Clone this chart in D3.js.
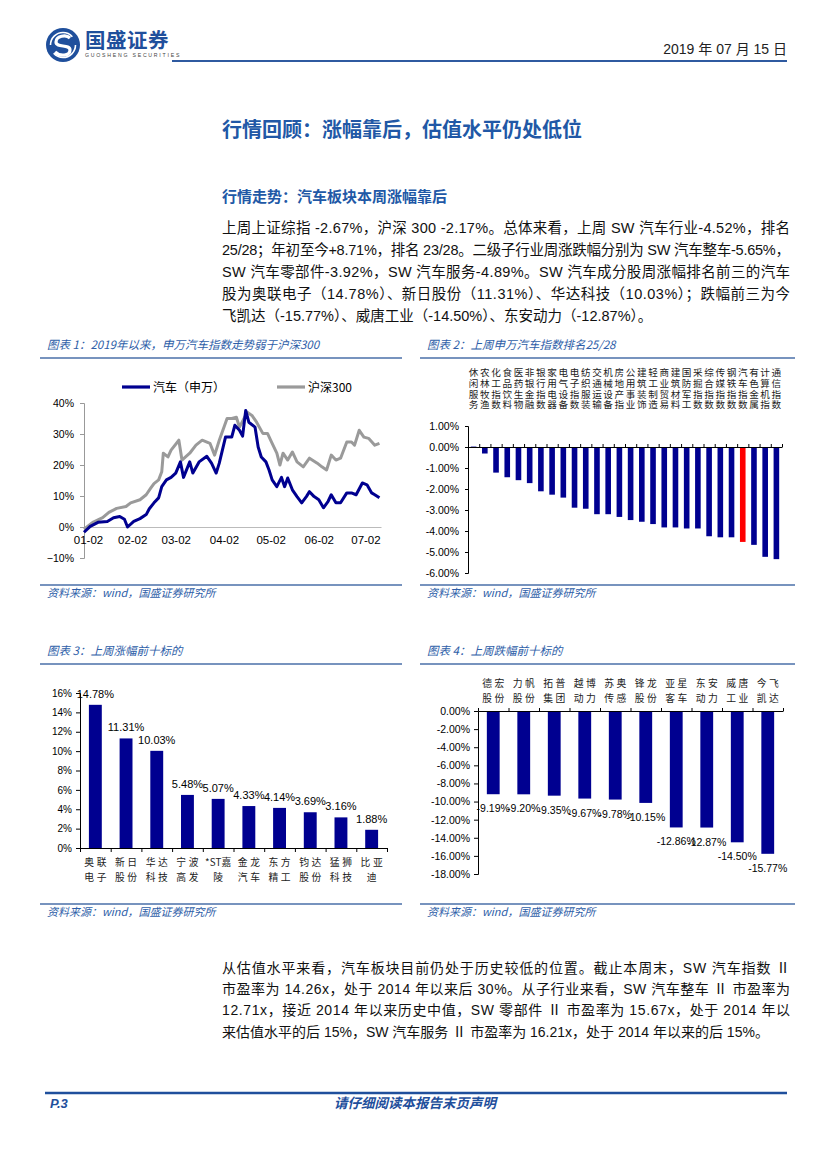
<!DOCTYPE html>
<html>
<head>
<meta charset="utf-8">
<script src="https://cdn.jsdelivr.net/npm/d3@7"></script>
<style>
  body { margin: 0; background: #fff; }
</style>
</head>
<body>
<div id="page"></div>
<script>
// ---- data ----

// chart 1: cumulative change since 2019-01-02 (%)
const autoSeries = [
  ["2019-01-02", -1.7], ["2019-01-06", 0.2], ["2019-01-11", 1.5], ["2019-01-17", 1.8],
  ["2019-01-21", 3.0], ["2019-01-25", 3.4], ["2019-01-28", 2.5], ["2019-01-30", 0.0],
  ["2019-02-03", 1.8], ["2019-02-07", 2.7], ["2019-02-11", 4.0], ["2019-02-13", 5.9],
  ["2019-02-16", 7.8], ["2019-02-19", 9.4], ["2019-02-21", 13.0], ["2019-02-24", 15.2],
  ["2019-02-27", 16.0], ["2019-03-02", 17.4], ["2019-03-05", 21.0], ["2019-03-07", 16.0],
  ["2019-03-11", 21.0], ["2019-03-13", 17.4], ["2019-03-17", 21.0], ["2019-03-22", 22.8],
  ["2019-03-25", 20.6], ["2019-03-28", 17.4], ["2019-03-30", 20.6], ["2019-04-03", 29.0],
  ["2019-04-07", 29.0], ["2019-04-09", 32.8], ["2019-04-12", 31.2], ["2019-04-14", 29.3],
  ["2019-04-16", 37.6], ["2019-04-18", 33.8], ["2019-04-22", 32.2], ["2019-04-24", 25.8],
  ["2019-04-26", 22.6], ["2019-04-29", 21.0], ["2019-05-01", 18.4], ["2019-05-03", 15.2],
  ["2019-05-06", 13.0], ["2019-05-09", 16.0], ["2019-05-11", 13.0], ["2019-05-13", 15.8],
  ["2019-05-16", 12.0], ["2019-05-19", 9.8], ["2019-05-22", 7.8], ["2019-05-25", 9.8],
  ["2019-05-27", 11.4], ["2019-05-30", 9.8], ["2019-06-02", 8.8], ["2019-06-05", 6.2],
  ["2019-06-08", 8.3], ["2019-06-10", 10.4], ["2019-06-13", 7.8], ["2019-06-16", 7.8],
  ["2019-06-20", 11.0], ["2019-06-23", 11.0], ["2019-06-26", 10.4], ["2019-06-30", 14.2],
  ["2019-07-03", 13.6], ["2019-07-06", 11.0], ["2019-07-08", 10.4], ["2019-07-11", 9.4]
];
const hs300Series = [
  ["2019-01-02", -0.7], ["2019-01-08", 1.6], ["2019-01-14", 3.0], ["2019-01-18", 4.7],
  ["2019-01-23", 6.0], ["2019-01-29", 6.6], ["2019-02-01", 7.8], ["2019-02-07", 8.8],
  ["2019-02-11", 10.4], ["2019-02-14", 12.6], ["2019-02-16", 14.0], ["2019-02-19", 15.2],
  ["2019-02-21", 17.8], ["2019-02-22", 23.8], ["2019-02-25", 22.6], ["2019-02-27", 24.8],
  ["2019-03-04", 28.0], ["2019-03-06", 21.6], ["2019-03-11", 23.8], ["2019-03-15", 26.4],
  ["2019-03-19", 28.0], ["2019-03-24", 27.0], ["2019-03-27", 23.2], ["2019-03-30", 28.0],
  ["2019-04-02", 32.2], ["2019-04-04", 35.0], ["2019-04-07", 35.0], ["2019-04-10", 35.4],
  ["2019-04-12", 32.2], ["2019-04-17", 37.0], ["2019-04-20", 36.0], ["2019-04-23", 33.8],
  ["2019-04-27", 30.2], ["2019-04-30", 30.2], ["2019-05-03", 27.0], ["2019-05-06", 23.8],
  ["2019-05-08", 20.0], ["2019-05-10", 23.8], ["2019-05-13", 21.6], ["2019-05-16", 24.2],
  ["2019-05-19", 21.0], ["2019-05-23", 19.4], ["2019-05-27", 22.2], ["2019-06-01", 20.6],
  ["2019-06-04", 19.4], ["2019-06-07", 18.4], ["2019-06-10", 23.2], ["2019-06-13", 21.6],
  ["2019-06-16", 22.2], ["2019-06-20", 27.4], ["2019-06-23", 27.4], ["2019-06-25", 26.4],
  ["2019-06-28", 31.2], ["2019-07-01", 29.0], ["2019-07-04", 28.6], ["2019-07-08", 26.4],
  ["2019-07-11", 27.0]
];
const chart1Dates = ["2019-01-02", "2019-02-02", "2019-03-02", "2019-04-02", "2019-05-02", "2019-06-02", "2019-07-02"];
const chart1Ticks = [-10, 0, 10, 20, 30, 40];
const legendNames = ["汽车（申万）", "沪深300"];

// chart 2: last week, SW level-1 industries (%)
const industryNames = ["休闲服务", "农林牧渔", "化工指数", "食品饮料", "医药生物", "非银金融", "银行指数",
  "家用电器", "电气设备", "电子指数", "纺织服装", "交通运输", "机械设备", "房地产指", "公用事业",
  "建筑装饰", "轻工制造", "商业贸易", "建筑材料", "国防军工", "采掘指数", "综合指数", "传媒指数",
  "钢铁指数", "汽车指数", "有色金属", "计算机指", "通信指数"];
const industryChange = [0.02, -0.31, -1.22, -1.44, -1.58, -1.72, -2.11, -2.27, -2.41, -2.89, -2.94,
  -3.20, -3.20, -3.33, -3.48, -3.56, -3.67, -3.83, -3.83, -3.88, -3.88, -4.25, -4.30, -4.30,
  -4.52, -4.66, -5.23, -5.34];
const chart2Ticks = [1, 0, -1, -2, -3, -4, -5, -6];

// chart 3: top ten gainers (%)
const gainerNames = ["奥联\n电子", "新日\n股份", "华达\n科技", "宁波\n高发", "*ST嘉\n陵",
  "金龙\n汽车", "东方\n精工", "钧达\n股份", "猛狮\n科技", "比亚\n迪"];
const gainerChange = [14.78, 11.31, 10.03, 5.48, 5.07, 4.33, 4.14, 3.69, 3.16, 1.88];
const chart3Ticks = [0, 2, 4, 6, 8, 10, 12, 14, 16];

// chart 4: top ten losers (%)
const loserNames = ["德宏\n股份", "力帆\n股份", "拓普\n集团", "越博\n动力", "苏奥\n传感",
  "锋龙\n股份", "亚星\n客车", "东安\n动力", "威唐\n工业", "今飞\n凯达"];
const loserChange = [-9.19, -9.20, -9.35, -9.67, -9.78, -10.15, -12.86, -12.87, -14.50, -15.77];
const chart4Ticks = [0, -2, -4, -6, -8, -10, -12, -14, -16, -18];

// page text
const introLines = [
  "上周上证综指 -2.67%，沪深 300 -2.17%。总体来看，上周 SW 汽车行业-4.52%，排名",
  "25/28；年初至今+8.71%，排名 23/28。二级子行业周涨跌幅分别为 SW 汽车整车-5.65%，",
  "SW 汽车零部件-3.92%，SW 汽车服务-4.89%。SW 汽车成分股周涨幅排名前三的汽车",
  "股为奥联电子（14.78%）、新日股份（11.31%）、华达科技（10.03%）；跌幅前三为今",
  "飞凯达（-15.77%）、威唐工业（-14.50%）、东安动力（-12.87%）。"
];
const valuationLines = [
  "从估值水平来看，汽车板块目前仍处于历史较低的位置。截止本周末，SW 汽车指数 Ⅱ",
  "市盈率为 14.26x，处于 2014 年以来后 30%。从子行业来看，SW 汽车整车 Ⅱ 市盈率为",
  "12.71x，接近 2014 年以来历史中值，SW 零部件 Ⅱ 市盈率为 15.67x，处于 2014 年以",
  "来估值水平的后 15%，SW 汽车服务 Ⅱ 市盈率为 16.21x，处于 2014 年以来的后 15%。"
];

// ---- styles ----
const SANS = "'Liberation Sans', 'Noto Sans CJK SC', sans-serif";
const CJK = "'Noto Sans CJK SC', sans-serif";
const BRAND = "#1f4f9c";
const CAPTION = "#2e5ea8";
const NAVY = "#000090";
const RED = "#ff0000";

const fmt = d3.formatLocale({decimal: ".", thousands: ",", grouping: [3], currency: ["", ""], minus: "-"});
const pct2 = v => fmt.format(".2f")(v) + "%";
const parseDay = d3.timeParse("%Y-%m-%d");

const svg = d3.select("#page")
    .append("svg")
    .attr("width", 827)
    .attr("height", 1170)
    .style("font-family", SANS);

// ---- header ----
const logo = svg.append("g").attr("transform", "translate(63,45)");
logo.append("circle").attr("r", 17).attr("fill", BRAND);
logo.append("circle").attr("r", 12.5).attr("fill", "none").attr("stroke", "#fff").attr("stroke-width", 1.6)
    .attr("stroke-dasharray", "30 9");
logo.append("path")
    .attr("d", "M7,-7 C3,-11 -7,-9 -7,-3 C-7,3 7,-1 7,5 C7,11 -3,12 -8,7")
    .attr("fill", "none").attr("stroke", "#fff").attr("stroke-width", 3.2);

svg.append("text").attr("x", 85).attr("y", 48)
    .attr("font-family", CJK).attr("font-size", 20.5).attr("font-weight", 700)
    .attr("fill", BRAND).attr("letter-spacing", 0.5)
    .text("国盛证券");
svg.append("text").attr("x", 85).attr("y", 57)
    .attr("font-size", 5.2).attr("letter-spacing", 1.75).attr("fill", "#444")
    .text("GUOSHENG SECURITIES");
svg.append("line").attr("x1", 172).attr("x2", 787).attr("y1", 61).attr("y2", 61)
    .attr("stroke", "#2f5aa0").attr("stroke-width", 2);
svg.append("text").attr("x", 787).attr("y", 54).attr("text-anchor", "end")
    .attr("font-size", 14).attr("fill", "#222")
    .text("2019 年 07 月 15 日");

// ---- section headings and intro ----
svg.append("text").attr("x", 222).attr("y", 137)
    .attr("font-family", CJK).attr("font-size", 20).attr("font-weight", 700).attr("fill", "#2158a6")
    .text("行情回顾：涨幅靠后，估值水平仍处低位");
svg.append("text").attr("x", 222).attr("y", 202)
    .attr("font-family", CJK).attr("font-size", 15).attr("font-weight", 700).attr("fill", "#2158a6")
    .text("行情走势：汽车板块本周涨幅靠后");

function paragraph(lines, top, step, size) {
    lines.forEach((t, i) => {
        const el = svg.append("text")
            .attr("x", 222).attr("y", top + i * step)
            .attr("font-size", size).attr("fill", "#111")
            .text(t);
        if (i < lines.length - 1) el.attr("textLength", 568).attr("lengthAdjust", "spacing");
    });
}
paragraph(introLines, 233, 22, 14.5);
paragraph(valuationLines, 973, 21.2, 14);

// ---- chart frames: caption, rules, source ----
function frame(left, right, caption, ruleTop, ruleBottom) {
    svg.append("text").attr("x", left + 7).attr("y", ruleTop - 9)
        .attr("font-family", CJK).attr("font-size", 11.5).attr("font-style", "italic")
        .attr("fill", CAPTION).text(caption);
    svg.append("line").attr("x1", left).attr("x2", right).attr("y1", ruleTop).attr("y2", ruleTop)
        .attr("stroke", "#4a6fa8").attr("stroke-width", 1.3);
    svg.append("line").attr("x1", left).attr("x2", right).attr("y1", ruleBottom).attr("y2", ruleBottom)
        .attr("stroke", "#4a6fa8").attr("stroke-width", 1.3);
    svg.append("text").attr("x", left + 7).attr("y", ruleBottom + 12)
        .attr("font-family", CJK).attr("font-size", 11).attr("font-style", "italic")
        .attr("fill", CAPTION).text("资料来源：wind，国盛证券研究所");
}
frame(40, 402, "图表 1：2019年以来，申万汽车指数走势弱于沪深300", 358, 585);
frame(420, 795, "图表 2：上周申万汽车指数排名25/28", 358, 585);
frame(40, 402, "图表 3：上周涨幅前十标的", 664, 904);
frame(420, 795, "图表 4：上周跌幅前十标的", 664, 904);

function styleAxis(g, size, color) {
    g.attr("font-family", SANS).attr("font-size", size);
    g.select(".domain").attr("stroke", color);
    g.selectAll(".tick line").attr("stroke", color);
    g.selectAll(".tick text").attr("fill", "#000");
}

// ---- chart 1: lines ----
const x1 = d3.scaleTime().domain([parseDay("2019-01-02"), parseDay("2019-07-12")]).range([84, 381]);
const y1 = d3.scaleLinear().domain([-10, 40]).range([558, 403]);

svg.append("g")
    .attr("transform", `translate(84,0)`)
    .call(d3.axisLeft(y1).tickValues(chart1Ticks).tickFormat(d => d3.format("d")(d) + "%").tickSize(4).tickPadding(6))
    .call(g => styleAxis(g, 10.5, "#999"));

svg.append("g")
    .attr("transform", `translate(0,${y1(0)})`)
    .call(d3.axisBottom(x1).tickValues(chart1Dates.map(parseDay)).tickFormat(d3.timeFormat("%m-%d")).tickSize(0).tickPadding(9))
    .call(g => styleAxis(g, 11.5, "#bbb"))
    .call(g => g.select(".tick text").attr("dx", 4));

const line1 = d3.line()
    .x(d => x1(parseDay(d[0])))
    .y(d => y1(d[1]));

svg.append("path").datum(hs300Series).attr("d", line1)
    .attr("fill", "none").attr("stroke", "#9a9a9a").attr("stroke-width", 3).attr("stroke-linejoin", "round");
svg.append("path").datum(autoSeries).attr("d", line1)
    .attr("fill", "none").attr("stroke", NAVY).attr("stroke-width", 3).attr("stroke-linejoin", "round");

// legend
const legend = svg.append("g").attr("font-family", CJK).attr("font-size", 12);
[[122, NAVY], [277, "#9a9a9a"]].forEach(([lx, c], i) => {
    legend.append("line").attr("x1", lx).attr("x2", lx + 28).attr("y1", 387).attr("y2", 387)
        .attr("stroke", c).attr("stroke-width", 3.2);
    legend.append("text").attr("x", lx + 31).attr("y", 391.5).attr("fill", "#000").text(legendNames[i]);
});

// ---- chart 2: industry ranking ----
const x2 = d3.scaleBand().domain(industryNames).range([468, 782]).paddingInner(0.5).paddingOuter(0.25);
const y2 = d3.scaleLinear().domain([-6, 1]).range([573, 426]);
const edge2 = d3.scaleLinear().domain([0, industryNames.length]).range([468, 782]);

svg.append("g").selectAll("rect")
    .data(industryNames)
    .join("rect")
    .attr("x", d => x2(d))
    .attr("width", x2.bandwidth())
    .attr("y", (d, i) => Math.min(y2(0), y2(industryChange[i])))
    .attr("height", (d, i) => Math.abs(y2(industryChange[i]) - y2(0)))
    .attr("fill", d => d === "汽车指数" ? RED : NAVY);

svg.append("g")
    .attr("transform", `translate(468,0)`)
    .call(d3.axisLeft(y2).tickValues(chart2Ticks).tickFormat(pct2).tickSize(3).tickPadding(6))
    .call(g => styleAxis(g, 10.5, "#000"));

svg.append("g")
    .attr("transform", `translate(0,${y2(0)})`)
    .call(d3.axisTop(edge2).tickValues(d3.range(industryNames.length + 1)).tickFormat("").tickSize(3).tickSizeOuter(0))
    .call(g => styleAxis(g, 10, "#000"));

// industry names run top to bottom, one column per bar
svg.append("g").attr("font-family", CJK).attr("font-size", 9.6).attr("fill", "#222")
    .selectAll("text")
    .data(industryNames)
    .join("text")
    .attr("x", d => x2(d) + x2.bandwidth() / 2)
    .attr("y", 368)
    .style("writing-mode", "vertical-rl")
    .style("text-orientation", "upright")
    .attr("letter-spacing", 1.0)
    .text(d => d);

// ---- chart 3: top gainers ----
const x3 = d3.scaleBand().domain(gainerNames).range([80, 387]).paddingInner(0.58).paddingOuter(0.29);
const y3 = d3.scaleLinear().domain([0, 16]).range([848, 693]);
const edge3 = d3.scaleLinear().domain([0, gainerNames.length]).range([80, 387]);

svg.append("g").selectAll("rect")
    .data(gainerNames)
    .join("rect")
    .attr("x", d => x3(d))
    .attr("width", x3.bandwidth())
    .attr("y", (d, i) => y3(gainerChange[i]))
    .attr("height", (d, i) => y3(0) - y3(gainerChange[i]))
    .attr("fill", NAVY);

svg.append("g")
    .attr("transform", `translate(80,0)`)
    .call(d3.axisLeft(y3).tickValues(chart3Ticks).tickFormat(d => d + "%").tickSize(4).tickPadding(4))
    .call(g => styleAxis(g, 10, "#000"));

svg.append("g")
    .attr("transform", `translate(0,${y3(0)})`)
    .call(d3.axisBottom(edge3).tickValues(d3.range(gainerNames.length + 1)).tickFormat("").tickSize(4).tickSizeOuter(0))
    .call(g => styleAxis(g, 10, "#000"));

svg.append("g").attr("font-size", 11).attr("text-anchor", "middle").attr("fill", "#000")
    .selectAll("text")
    .data(gainerNames)
    .join("text")
    .attr("x", d => x3(d) + x3.bandwidth() / 2)
    .attr("y", (d, i) => y3(gainerChange[i]) - 7)
    .text((d, i) => pct2(gainerChange[i]));

function twoRowLabels(scale, names, y0, y1r) {
    const g = svg.append("g").attr("font-family", CJK).attr("font-size", 9.8).attr("fill", "#222")
        .attr("text-anchor", "middle");
    names.forEach(name => {
        name.split("\n").forEach((part, j) => {
            // latin parts (like *ST) are set tighter than the spaced-out hanzi
            const gap = /[A-Za-z*]/.test(part) ? 0.2 : 2.6;
            g.append("text")
                .attr("x", scale(name) + scale.bandwidth() / 2 + gap / 2)
                .attr("y", j === 0 ? y0 : y1r)
                .attr("letter-spacing", gap)
                .text(part);
        });
    });
}
twoRowLabels(x3, gainerNames, 866, 881);

// ---- chart 4: top losers ----
const x4 = d3.scaleBand().domain(loserNames).range([478, 783]).paddingInner(0.58).paddingOuter(0.29);
const y4 = d3.scaleLinear().domain([-18, 0]).range([874, 711]);
const edge4 = d3.scaleLinear().domain([0, loserNames.length]).range([478, 783]);

svg.append("g").selectAll("rect")
    .data(loserNames)
    .join("rect")
    .attr("x", d => x4(d))
    .attr("width", x4.bandwidth())
    .attr("y", y4(0))
    .attr("height", (d, i) => y4(loserChange[i]) - y4(0))
    .attr("fill", NAVY);

svg.append("g")
    .attr("transform", `translate(478,0)`)
    .call(d3.axisLeft(y4).tickValues(chart4Ticks).tickFormat(pct2).tickSize(4).tickPadding(4))
    .call(g => styleAxis(g, 10.5, "#000"));

svg.append("g")
    .attr("transform", `translate(0,${y4(0)})`)
    .call(d3.axisTop(edge4).tickValues(d3.range(loserNames.length + 1)).tickFormat("").tickSize(3).tickSizeOuter(0))
    .call(g => styleAxis(g, 10, "#000"));

svg.append("g").attr("font-size", 10.5).attr("text-anchor", "middle").attr("fill", "#000")
    .selectAll("text")
    .data(loserNames)
    .join("text")
    .attr("x", d => x4(d) + x4.bandwidth() / 2)
    .attr("y", (d, i) => y4(loserChange[i]) + 18)
    .text((d, i) => pct2(loserChange[i]));

twoRowLabels(x4, loserNames, 687, 702);

// ---- footer ----
svg.append("line").attr("x1", 45).attr("x2", 787).attr("y1", 1093).attr("y2", 1093)
    .attr("stroke", BRAND).attr("stroke-width", 2.5);
svg.append("text").attr("x", 50).attr("y", 1108)
    .attr("font-size", 13).attr("font-weight", 700).attr("font-style", "italic").attr("fill", BRAND)
    .text("P.3");
svg.append("text").attr("x", 415).attr("y", 1108).attr("text-anchor", "middle")
    .attr("font-family", CJK).attr("font-size", 13.5).attr("font-weight", 700).attr("font-style", "italic")
    .attr("fill", BRAND)
    .text("请仔细阅读本报告末页声明");
</script>
</body>
</html>
